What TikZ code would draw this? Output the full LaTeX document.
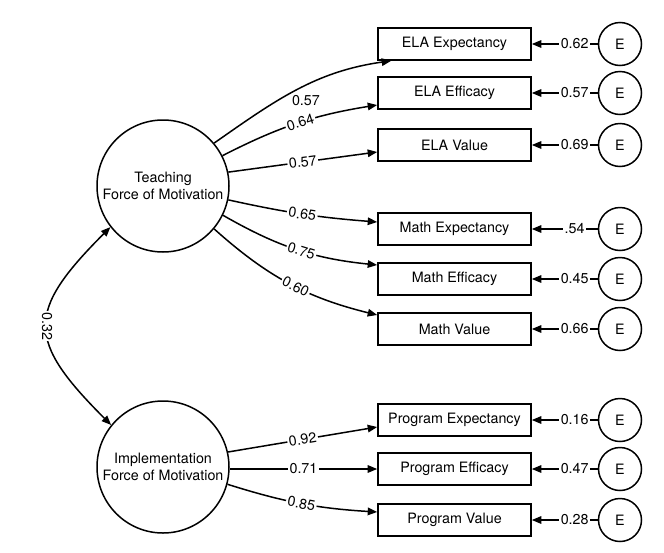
\documentclass[tikz,border=0pt]{standalone}
\usepackage{fontspec}
\setmainfont{TeX Gyre Heros}
\usetikzlibrary{arrows.meta}
\begin{document}
\begin{tikzpicture}[x=1pt,y=1pt,
  every node/.style={font=\fontsize{14.3}{17.5}\selectfont},
  lat/.style={circle, draw, line width=1.5pt, minimum size=132pt, inner sep=0pt, align=center},
  obs/.style={draw, line width=1.6pt, minimum width=153pt, minimum height=32pt, inner sep=0pt},
  err/.style={circle, draw, line width=1.5pt, minimum size=43pt, inner sep=0pt},
  pth/.style={line width=1.5pt, -{Triangle[length=9.5pt,width=7.5pt]}},
  lbl/.style={fill=white, inner sep=1.5pt}]
\useasboundingbox (0,0) rectangle (664,-552);

% latent factors
\node[lat] (T) at (163,-186) {Teaching\\Force of Motivation};
\node[lat] (I) at (163,-467) {Implementation\\Force of Motivation};

% observed indicators
\node[obs] (b1) at (454.5,-44)  {ELA Expectancy};
\node[obs] (b2) at (454.5,-93)  {ELA Efficacy};
\node[obs] (b3) at (454.5,-145) {ELA Value};
\node[obs] (b4) at (454.5,-229) {Math Expectancy};
\node[obs] (b5) at (454.5,-279) {Math Efficacy};
\node[obs] (b6) at (454.5,-329) {Math Value};
\node[obs] (p1) at (454.5,-420) {Program Expectancy};
\node[obs] (p2) at (454.5,-469) {Program Efficacy};
\node[obs] (p3) at (454.5,-520) {Program Value};

% error terms
\node[err] (e1) at (620,-44)  {E};
\node[err] (e2) at (620,-93)  {E};
\node[err] (e3) at (620,-145) {E};
\node[err] (e4) at (620,-229) {E};
\node[err] (e5) at (620,-279) {E};
\node[err] (e6) at (620,-329) {E};
\node[err] (e7) at (620,-420) {E};
\node[err] (e8) at (620,-469) {E};
\node[err] (e9) at (620,-520) {E};

% error paths
\draw[pth] (e1) -- node[lbl,pos=0.35]{0.62} (b1);
\draw[pth] (e2) -- node[lbl,pos=0.35]{0.57} (b2);
\draw[pth] (e3) -- node[lbl,pos=0.35]{0.69} (b3);
\draw[pth] (e4) -- node[lbl,pos=0.35]{.54} (b4);
\draw[pth] (e5) -- node[lbl,pos=0.35]{0.45} (b5);
\draw[pth] (e6) -- node[lbl,pos=0.35]{0.66} (b6);
\draw[pth] (e7) -- node[lbl,pos=0.35]{0.16} (p1);
\draw[pth] (e8) -- node[lbl,pos=0.35]{0.47} (p2);
\draw[pth] (e9) -- node[lbl,pos=0.35]{0.28} (p3);

% loadings: teaching
\draw[pth] (T.40) to[out=35,in=188] node[lbl,pos=0.55,below=8pt]{0.57} ([xshift=14pt]b1.south west);
\draw[pth] (T.27) to[bend left=9] node[lbl,sloped,pos=0.52]{0.64} ([yshift=-12pt]b2.west);
\draw[pth] (T.12) -- node[lbl,sloped]{0.57} ([yshift=-7pt]b3.west);
\draw[pth] (T.-12) to[bend right=4] node[lbl,sloped]{0.65} ([yshift=7pt]b4.west);
\draw[pth] (T.-26) to[bend right=12] node[lbl,sloped,pos=0.53]{0.75} ([yshift=14pt]b5.west);
\draw[pth] (T.-40) to[bend right=14] node[lbl,sloped,pos=0.54]{0.60} ([yshift=14pt]b6.west);

% loadings: implementation
\draw[pth] (I.13) -- node[lbl,sloped]{0.92} ([yshift=-7pt]p1.west);
\draw[pth] (I.east |- p2.west) -- node[lbl]{0.71} (p2.west);
\draw[pth] (I.-15) to[bend right=7] node[lbl,sloped]{0.85} ([yshift=8pt]p3.west);

% covariance
\draw[line width=1.5pt, {Triangle[length=9.5pt,width=7.5pt]}-{Triangle[length=9.5pt,width=7.5pt]}]
  (T.218) to[out=225,in=135,looseness=1.55] node[lbl,rotate=-90]{0.32} (I.141);
\end{tikzpicture}
\end{document}
